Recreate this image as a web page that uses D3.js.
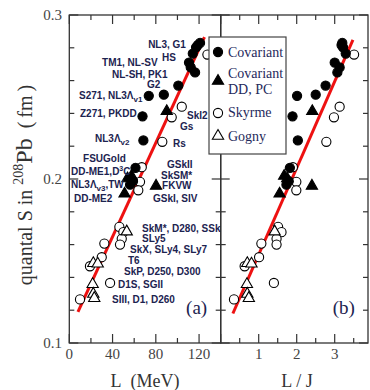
<!DOCTYPE html>
<html><head><meta charset="utf-8">
<script src="https://cdn.jsdelivr.net/npm/d3@7"></script>
<style>
body{margin:0;background:#fff;}
svg{display:block;}
</style></head>
<body><svg id="chart" width="370" height="390"></svg>
<script>
// ---- data ----
const covL  = [120.9,118.8,117.2,114.2,110.7,112.3,116.3,100.8,87.4,73.5,67.7,68.5,61.2,58.9,56.2];
const covLJ = [3.20,3.18,3.22,3.29,3.00,3.13,3.07,2.76,2.50,2.01,1.89,2.03,1.82,1.79,1.73];
const covS  = [0.283,0.2817,0.2803,0.2765,0.271,0.268,0.265,0.257,0.2514,0.2507,0.2382,0.2235,0.2068,0.1987,0.1965];

const ddL  = [90.1,57.5,53.8,51.1,80.2];
const ddLJ = [2.41,1.67,1.75,1.55,2.40];
const ddS  = [0.2413,0.2018,0.2003,0.191,0.1958];

const skyL  = [127.7,104,94.7,86,67,65.4,63.8,46.3,50,48.5,46.9,32.4,30,19.1,37.7,9.9];
const skyLJ = [3.51,3.13,2.98,2.78,1.90,1.99,1.99,1.51,1.60,1.47,1.47,1.07,1.01,0.63,1.40,0.35];
const skyS  = [0.2759,0.2441,0.2376,0.2227,0.2072,0.1983,0.1931,0.1708,0.1676,0.1635,0.16,0.1606,0.1523,0.1468,0.1366,0.1266];

const gogL  = [53.1,22.2,26.3,21.6,22.2,23.1];
const gogLJ = [1.42,0.70,0.81,0.69,0.70,0.74];
const gogS  = [0.1679,0.1486,0.1483,0.1358,0.1299,0.1273];

const fitA = [[8,0.119],[125,0.2865]];
const fitB = [[0.32,0.118],[3.48,0.2848]];

const yTicks = [0.1,0.2,0.3];
const xaTicks = [0,40,80,120];
const xbTicks = [1,2,3];

const legendNames = [["Covariant"],["Covariant","DD, PC"],["Skyrme"],["Gogny"]];

// label texts, with parts [text, kind] and anchors in data units (L, S)
const labelParts = [
  [["NL3, G1"]],[["HS"]],[["TM1, NL-SV"]],[["NL-SH, PK1"]],[["G2"]],
  [["S271, NL3Λ"],["v1","sub"]],[["Z271, PKDD"]],[["SkI2"]],[["Gs"]],
  [["NL3Λ"],["v2","sub"]],[["Rs"]],[["FSUGold"]],
  [["DD-ME1,D"],["3","sup"],["C"]],[["GSkII"]],[["SkSM*"]],
  [["NL3Λ"],["v3","sub"],[",TW"]],[["FKVW"]],[["DD-ME2"]],[["GSkI, SIV"]],
  [["SkM*, D280, SSk"]],[["SLy5"]],[["SkX, SLy4, SLy7"]],[["T6"]],
  [["SkP, D250, D300"]],[["D1S, SGII"]],[["SIII, D1, D260"]]
];
const labelL = [72.9,85.8,30.3,39.5,71.9,9,9.9,108.9,102.4,23.8,95.9,12.7,1.6,90.4,84.8,1.6,85.8,4.3,77.4,67.3,67.3,56.2,54.3,50.6,45.1,39.5];
const labelS = [0.2799,0.272,0.2689,0.2616,0.2555,0.2488,0.2378,0.2366,0.2299,0.2226,0.2195,0.2104,0.2024,0.2067,0.2,0.1945,0.1939,0.186,0.186,0.1677,0.1616,0.1549,0.1482,0.1415,0.1335,0.1244];

// ---- layout ----
const svg = d3.select("#chart");
const plotTop = 15, plotBottom = 343, ax0 = 69.3, mid = 220.7, bx1 = 368;
const y = d3.scaleLinear().domain([0.1,0.3]).range([plotBottom, plotTop]);
const xa = d3.scaleLinear().domain([0,140]).range([ax0, mid]);
const xb = d3.scaleLinear().domain([0,(bx1-mid)/38]).range([mid, bx1]);

const serif = "'Liberation Serif','Times New Roman',serif";
const sans = "'Liberation Sans',Arial,sans-serif";
const navy = "#1c2350";
const frameCol = "#333";

// frames
[[ax0,mid],[mid,bx1]].forEach(([x0,x1])=>{
  svg.append("rect").attr("x",x0).attr("y",plotTop).attr("width",x1-x0).attr("height",plotBottom-plotTop)
    .attr("fill","none").attr("stroke",frameCol).attr("stroke-width",1.3);
});

// y ticks (inward on all vertical edges)
const yAll = d3.range(0.1,0.3001,0.02);
function yTickLen(v){ return Math.abs(v*10-Math.round(v*10))<1e-6 ? 9 : 5; }
[[ax0,1],[mid,-1],[mid,1],[bx1,-1]].forEach(([xx,dir])=>{
  yAll.forEach(v=>{
    svg.append("line").attr("x1",xx).attr("x2",xx+dir*yTickLen(v))
      .attr("y1",y(v)).attr("y2",y(v)).attr("stroke",frameCol).attr("stroke-width",1.2);
  });
});
// x ticks panel a
d3.range(0,141,20).forEach(v=>{
  const len = v%40===0 || v===140 ? 9 : 5;
  [[plotBottom,-1],[plotTop,1]].forEach(([yy,dir])=>{
    svg.append("line").attr("x1",xa(v)).attr("x2",xa(v)).attr("y1",yy).attr("y2",yy+dir*len)
      .attr("stroke",frameCol).attr("stroke-width",1.2);
  });
});
// x ticks panel b
d3.range(0.5,3.6,0.5).forEach(v=>{
  const len = Math.abs(v-Math.round(v))<1e-6 ? 9 : 5;
  [[plotBottom,-1],[plotTop,1]].forEach(([yy,dir])=>{
    svg.append("line").attr("x1",xb(v)).attr("x2",xb(v)).attr("y1",yy).attr("y2",yy+dir*len)
      .attr("stroke",frameCol).attr("stroke-width",1.2);
  });
});

// tick labels
svg.append("g").selectAll("text").data(yTicks).join("text")
  .attr("x",62).attr("y",d=>y(d)+5).attr("text-anchor","end")
  .attr("font-family",serif).attr("font-size",15).attr("fill","#444")
  .text(d=>d3.format(".1f")(d));
svg.append("g").selectAll("text").data(xaTicks).join("text")
  .attr("x",d=>xa(d)).attr("y",359).attr("text-anchor","middle")
  .attr("font-family",serif).attr("font-size",15).attr("fill","#444").text(d=>d);
svg.append("g").selectAll("text").data(xbTicks).join("text")
  .attr("x",d=>xb(d)).attr("y",359).attr("text-anchor","middle")
  .attr("font-family",serif).attr("font-size",15).attr("fill","#444").text(d=>d);

// axis titles
svg.append("text").attr("x",145).attr("y",387).attr("text-anchor","middle")
  .attr("font-family",serif).attr("font-size",18).attr("fill","#333")
  .text("L\u00a0\u00a0(MeV)");
svg.append("text").attr("x",297).attr("y",387).attr("text-anchor","middle")
  .attr("font-family",serif).attr("font-size",18).attr("fill","#333").text("L / J");
const yt = svg.append("text").attr("transform","translate(32,185) rotate(-90)")
  .attr("text-anchor","middle").attr("font-family",serif).attr("fill","#333");
yt.append("tspan").attr("font-size",20).text("quantal S in ");
yt.append("tspan").attr("font-size",14).attr("dy",-9).text("208");
yt.append("tspan").attr("font-size",24).attr("dy",9).text("Pb");
yt.append("tspan").attr("font-size",20).text("\u2002(\u2009fm\u2009)");

// fit lines
const lineA = d3.line().x(d=>xa(d[0])).y(d=>y(d[1]));
const lineB = d3.line().x(d=>xb(d[0])).y(d=>y(d[1]));
svg.append("path").attr("d",lineA(fitA)).attr("stroke","#ee1111").attr("stroke-width",3).attr("fill","none");
svg.append("path").attr("d",lineB(fitB)).attr("stroke","#ee1111").attr("stroke-width",3).attr("fill","none");

// markers
const circ = d3.symbol().type(d3.symbolCircle).size(66);
const tri = d3.symbol().type(d3.symbolTriangle).size(55);
function drawSet(xs, ss, xScale, sym, filled){
  svg.append("g").selectAll("path").data(d3.range(xs.length)).join("path")
    .attr("transform",i=>`translate(${xScale(xs[i])},${y(ss[i])})`)
    .attr("d",sym())
    .attr("fill",filled?"#000":"#fff").attr("stroke","#000").attr("stroke-width",1.1);
}
drawSet(skyL, skyS, xa, circ, false);
drawSet(gogL, gogS, xa, tri, false);
drawSet(covL, covS, xa, circ, true);
drawSet(ddL, ddS, xa, tri, true);
drawSet(skyLJ, skyS, xb, circ, false);
drawSet(gogLJ, gogS, xb, tri, false);
drawSet(covLJ, covS, xb, circ, true);
drawSet(ddLJ, ddS, xb, tri, true);

// point labels
labelParts.forEach((parts,i)=>{
  const t = svg.append("text").attr("x",xa(labelL[i])).attr("y",y(labelS[i]))
    .attr("font-family",sans).attr("font-weight","bold").attr("font-size",10).attr("fill",navy);
  let shift = 0;
  parts.forEach(p=>{
    const ts = t.append("tspan");
    if(p[1]==="sub"){ ts.attr("font-size",8).attr("dy",3-shift); shift=3; }
    else if(p[1]==="sup"){ ts.attr("font-size",7).attr("dy",-4-shift); shift=-4; }
    else { ts.attr("dy",-shift); shift=0; }
    ts.text(p[0]);
  });
});

// panel labels
svg.append("text").attr("x",xa(108)).attr("y",314).attr("text-anchor","start")
  .attr("font-family",serif).attr("font-size",19).attr("fill",navy).text("(a)");
svg.append("text").attr("x",xb(2.95)).attr("y",314).attr("text-anchor","start")
  .attr("font-family",serif).attr("font-size",19).attr("fill",navy).text("(b)");

// legend
const lg = svg.append("g");
lg.append("rect").attr("x",209).attr("y",37).attr("width",77).attr("height",117)
  .attr("fill","#fff").attr("stroke","#444").attr("stroke-width",1.2);
const legSym = [[circ,true],[tri,true],[circ,false],[tri,false]];
const legMarkY = [52,81,113,136];
const legTextY = [[57],[78,94],[117],[141]];
legendNames.forEach((names,i)=>{
  lg.append("path").attr("transform",`translate(218,${legMarkY[i]})`).attr("d",legSym[i][0]())
    .attr("fill",legSym[i][1]?"#000":"#fff").attr("stroke","#000").attr("stroke-width",1.1);
  names.forEach((n,j)=>{
    lg.append("text").attr("x",228).attr("y",legTextY[i][j]).attr("font-family",serif)
      .attr("font-size",14).attr("fill","#1f2a5c").text(n);
  });
});
</script></body></html>
